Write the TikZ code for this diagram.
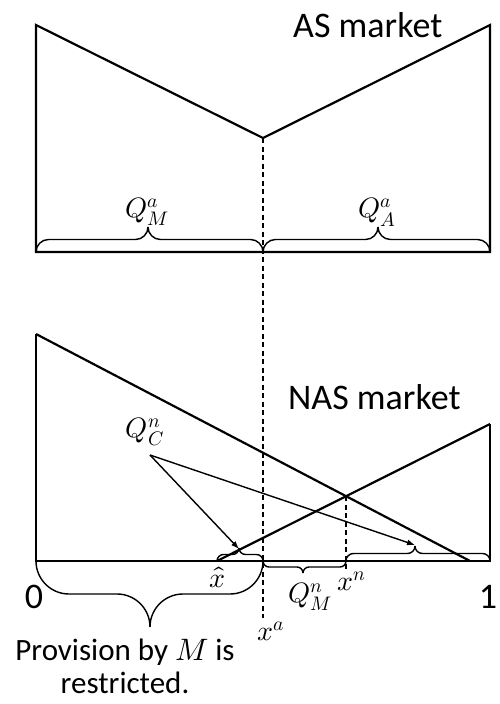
\documentclass[tikz,border=0pt]{standalone}
\usepackage{fontspec}
\usepackage{unicode-math}
\setmainfont{Carlito}
\setmathfont{Latin Modern Math}
\usetikzlibrary{arrows.meta}
\newcommand{\hbr}[7]{%
  \draw[brc,rounded corners=#7pt] (#1,#3) -- (#1,#4) -- (#5,#4) -- (#5,#6);
  \draw[brc,rounded corners=#7pt] (#2,#3) -- (#2,#4) -- (#5,#4) -- (#5,#6);}
\tikzset{
  mainln/.style={line width=2.2pt, line join=miter},
  brc/.style={line width=1.4pt},
  dsh/.style={line width=1.2pt, dash pattern=on 5pt off 3.5pt},
  arr/.style={line width=1.4pt, -{Latex[length=8pt,width=6pt]}},
  bigtxt/.style={font=\fontsize{36}{40}\selectfont, inner sep=0pt},
  mlab/.style={font=\fontsize{28}{30}\selectfont, inner sep=0pt},
  captxt/.style={font=\fontsize{31}{33}\selectfont, inner sep=0pt, align=center},
}
\begin{document}
\begin{tikzpicture}[x=1pt,y=-1pt]
\useasboundingbox (0,0) rectangle (499,704);
% key points
\coordinate (TL) at (36,25);
\coordinate (TV) at (263,138);
\coordinate (TR) at (490,25);
\coordinate (TBL) at (36,252);
\coordinate (TBR) at (490,252);
\coordinate (BL) at (36,334);
\coordinate (BBL) at (36,561);
\coordinate (BBR) at (490,561);
\coordinate (BR) at (490,424);
\coordinate (DescEnd) at (470,561);
\coordinate (AscStart) at (217,561);
\coordinate (Xn) at (346,496);
\coordinate (XnEnd) at (346,570);
\coordinate (XaEnd) at (263,618);
\coordinate (QC) at (150,455);
\coordinate (TipA) at (239,549);
\coordinate (TipB) at (415,545);
% top panel
\draw[mainln] (TBL) -- (TL) -- (TV) -- (TR) -- (TBR) -- cycle;
% bottom panel
\draw[mainln] (BL) -- (BBL) -- (BBR) -- (BR);
\draw[mainln] (BL) -- (DescEnd);
\draw[mainln] (AscStart) -- (BR);
% dashed lines
\draw[dsh] (TV) -- (XaEnd);
\draw[dsh] (Xn) -- (XnEnd);
% braces
\hbr{36}{263}{252}{239.5}{148}{227}{12.5}
\hbr{263}{490}{252}{239.5}{378}{227}{12.5}
\hbr{217}{263}{561}{554.5}{239}{548}{6.5}
\hbr{346}{490}{561}{553.5}{415}{546}{7.5}
\hbr{263}{346}{561}{567}{303}{573}{6}
\hbr{36}{263}{561}{594}{150}{627}{33}
% arrows
\draw[arr] (QC) -- (TipA);
\draw[arr] (QC) -- (TipB);
% labels
\node[bigtxt, anchor=base west] (as) at (293,37) {AS market};
\node[bigtxt, anchor=base west] (nas) at (288,409) {NAS market};
\node[mlab] (qma) at (147,212) {$Q_M^a$};
\node[mlab] (qaa) at (377,212) {$Q_A^a$};
\node[mlab] (qcn) at (145,432) {$Q_C^n$};
\node[mlab] (xhat) at (218,577) {$\hat{x}$};
\node[mlab] (qmn) at (310,597) {$Q_M^n$};
\node[mlab] (xn) at (352,581) {$x^n$};
\node[mlab] (xa) at (271,631) {$x^a$};
\node[bigtxt] (zero) at (34,597) {0};
\node[bigtxt] (one) at (488,597) {1};
\node[captxt] (prov) at (125,666) {Provision by $M$ is\\restricted.};
\end{tikzpicture}
\end{document}
